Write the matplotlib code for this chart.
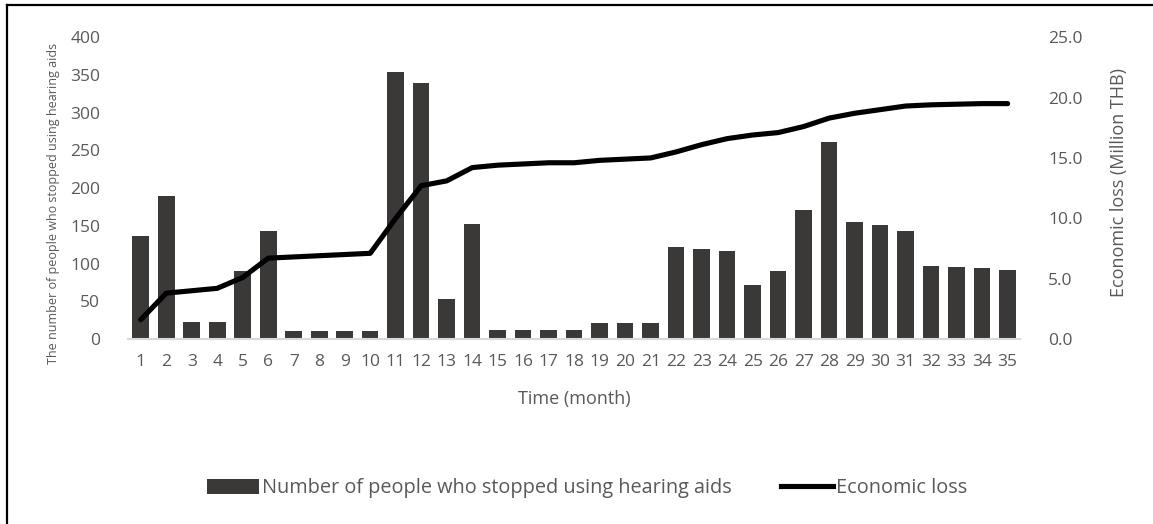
import matplotlib
matplotlib.use('Agg')
import matplotlib.pyplot as plt
from matplotlib.patches import Patch
from matplotlib.lines import Line2D

plt.rcParams['font.family'] = ['Open Sans', 'DejaVu Sans']

months = list(range(1, 36))
stopped = [137, 189, 22, 22, 90, 143, 11, 11, 11, 11,
           354, 339, 53, 153, 12, 12, 12, 12, 21, 21,
           21, 122, 119, 117, 72, 90, 171, 261, 155, 151,
           143, 97, 95, 94, 92]
loss = [1.6, 3.8, 4.0, 4.2, 5.1, 6.7, 6.8, 6.9, 7.0, 7.1,
        10.0, 12.7, 13.1, 14.2, 14.4, 14.5, 14.6, 14.6, 14.8, 14.9,
        15.0, 15.5, 16.1, 16.6, 16.9, 17.1, 17.6, 18.3, 18.7, 19.0,
        19.3, 19.4, 19.45, 19.5, 19.5]
loss_ticks = [0, 5, 10, 15, 20, 25]

bar_c = '#3b3838'
txt_c = '#595959'

fig = plt.figure(figsize=(11.53, 5.24), dpi=100)
ax = fig.add_axes([0.111, 0.353, 0.774, 0.576])
ax2 = ax.twinx()

ax.bar(months, stopped, width=0.65, color=bar_c, zorder=2)
ax2.plot(months, loss, color='black', lw=3.7, solid_capstyle='round', zorder=3)

ax.set_xlim(0.5, 35.5)
ax.set_ylim(0, 400)
ax.set_yticks(range(0, 401, 50))
ax2.set_ylim(0, 25)
ax2.set_yticks(loss_ticks)
ax2.set_yticklabels([f'{v:.1f}' for v in loss_ticks])
ax.set_xticks(months)

for a in (ax, ax2):
    for s in a.spines.values():
        s.set_visible(False)
    a.tick_params(length=0, labelsize=12.5, labelcolor=txt_c)
ax.spines['bottom'].set_visible(True)
ax.spines['bottom'].set_color('#d9d9d9')
ax.spines['bottom'].set_linewidth(1.5)
ax.tick_params(axis='x', pad=11)
ax.tick_params(axis='y', pad=20)
ax2.tick_params(axis='y', pad=20)

ax.set_ylabel('The number of people who stopped using hearing aids',
              fontsize=9, color=txt_c)
ax.yaxis.set_label_coords(-0.076, 0.45)
ax2.set_ylabel('Economic loss (Million THB)', fontsize=13, color=txt_c)
ax2.yaxis.set_label_coords(1.1, 0.52)
ax.set_xlabel('Time (month)', fontsize=13, color=txt_c, labelpad=14)

handles = [Patch(facecolor=bar_c),
           Line2D([0], [0], color='black', lw=3.7)]
fig.legend(handles, ['Number of people who stopped using hearing aids',
                     'Economic loss'],
           loc='center', bbox_to_anchor=(0.509, 0.068), ncol=2, frameon=False,
           fontsize=14.3, labelcolor=txt_c, handlelength=2.6, handleheight=0.75,
           handletextpad=0.15, columnspacing=2.5)

# frame (only top and left edges visible in the crop)
fig.add_artist(Line2D([0.006, 0.006], [0.0, 0.99], transform=fig.transFigure,
                      color='black', lw=1.6))
fig.add_artist(Line2D([0.006, 1.0], [0.99, 0.99], transform=fig.transFigure,
                      color='black', lw=1.6))

fig.savefig('out.png', dpi=100, facecolor='white')
